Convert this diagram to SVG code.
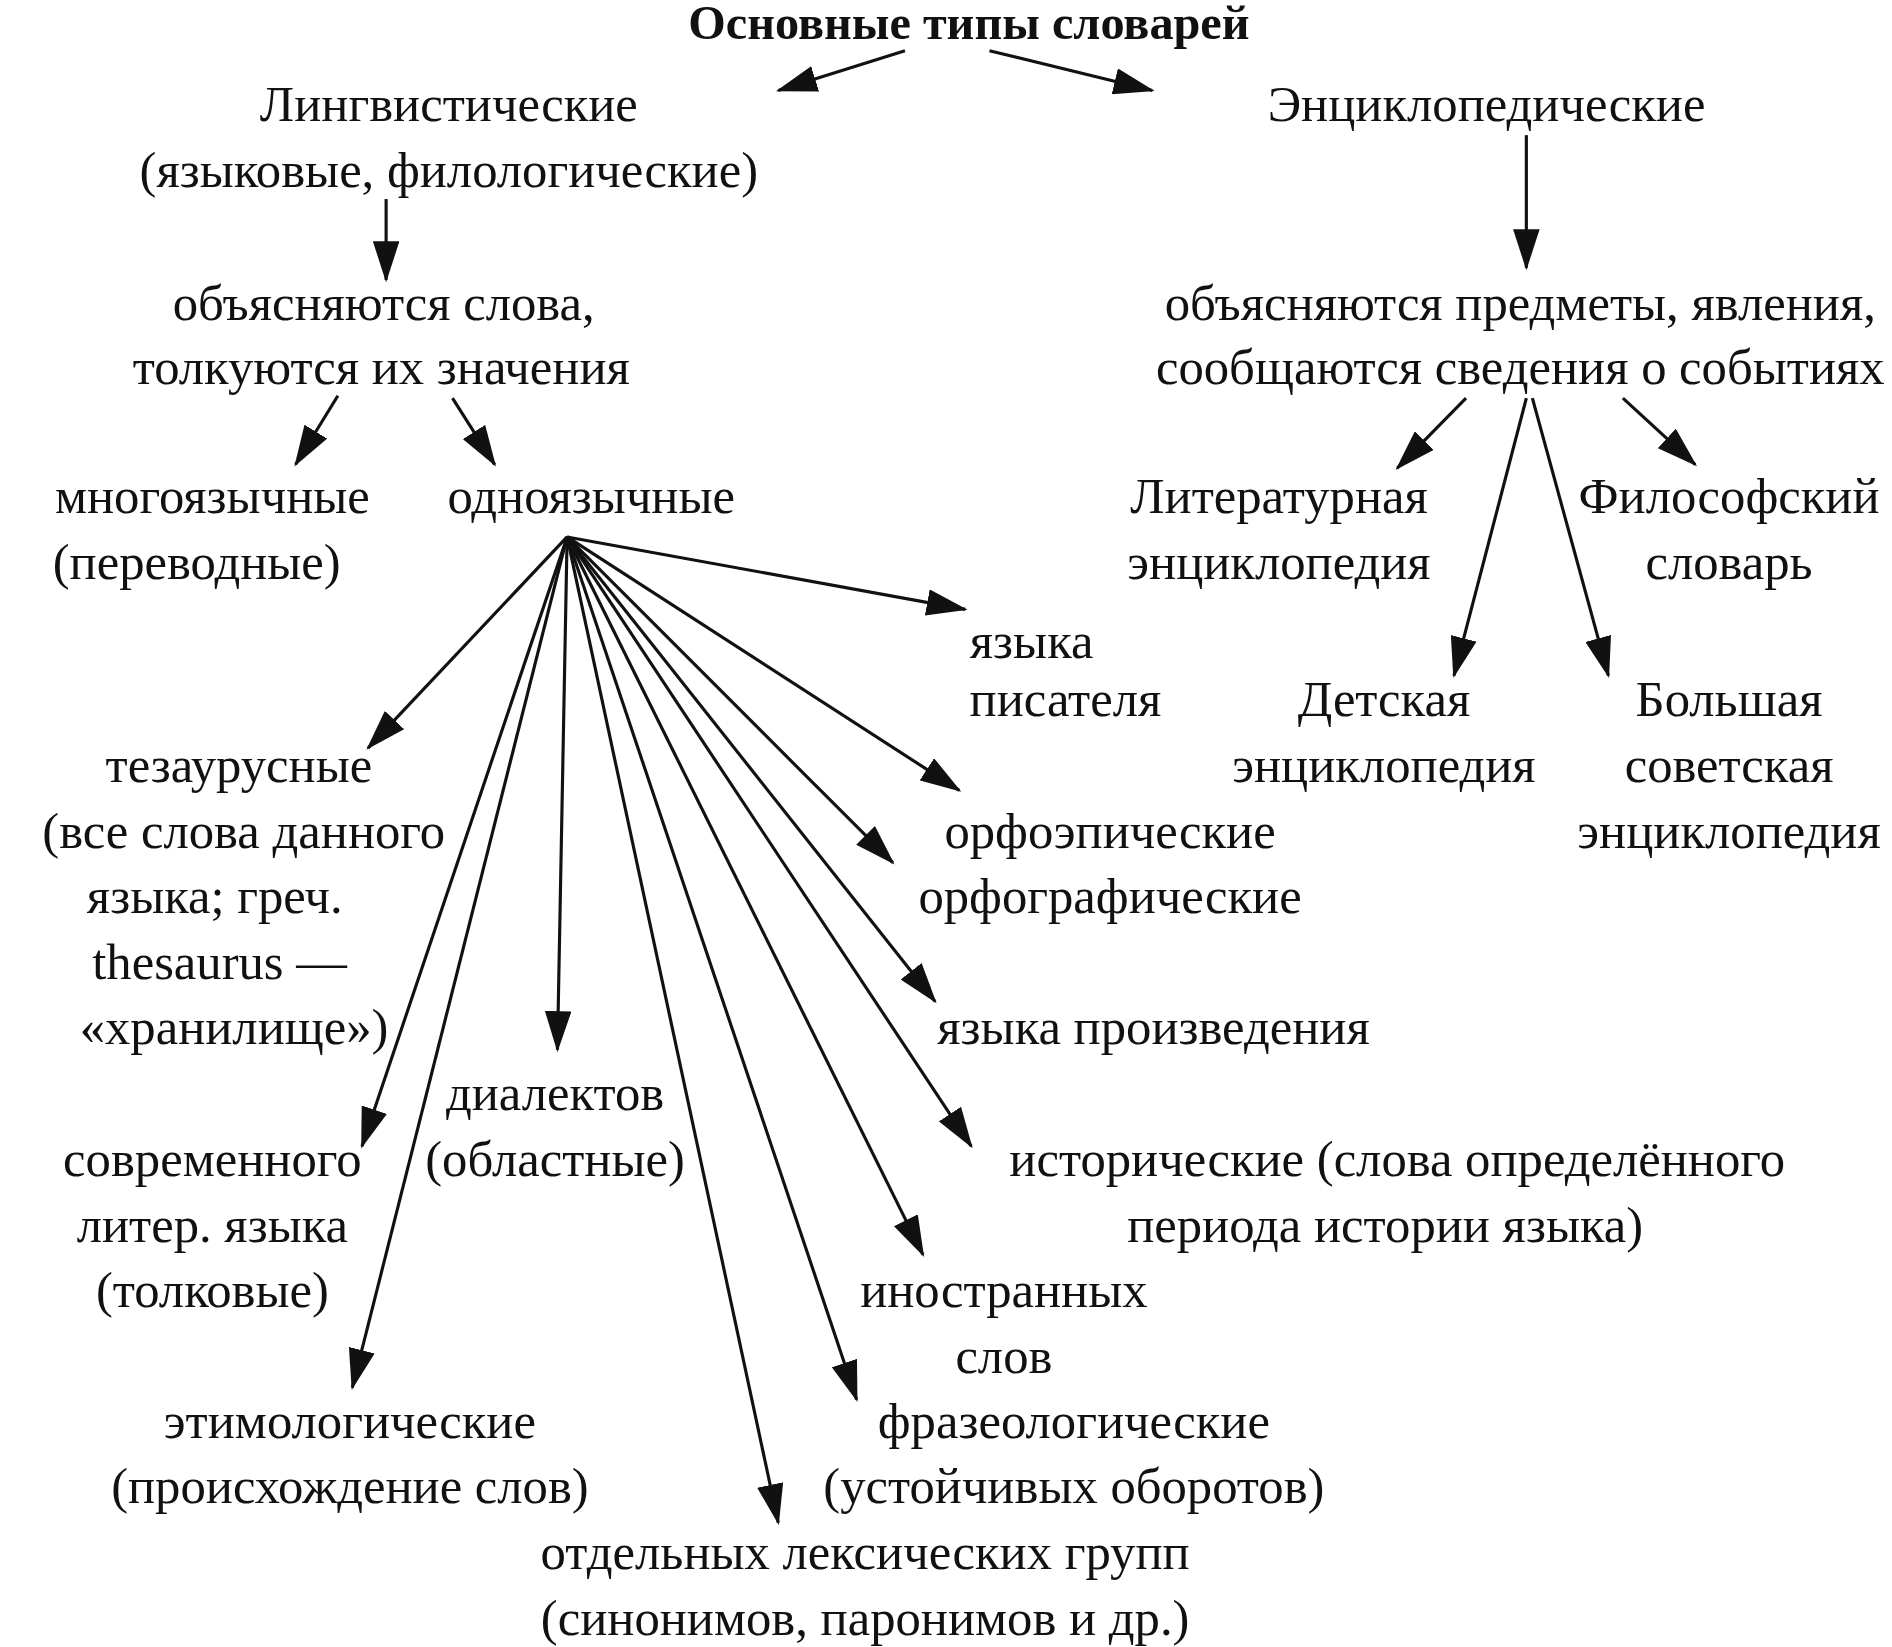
<svg xmlns="http://www.w3.org/2000/svg" width="1892" height="1647" viewBox="0 0 1892 1647">
<style>
text{font-family:"Liberation Serif","DejaVu Serif",serif;font-size:42px;fill:#111;text-anchor:middle}
.t{font-weight:bold;font-size:40px}
line{stroke:#111;stroke-width:2.6}
</style>
<defs><marker id="b" markerWidth="34" markerHeight="22" refX="32" refY="11" orient="auto" markerUnits="userSpaceOnUse" viewBox="0 0 34 22"><path d="M0,0L34,11L0,22Z" fill="#111"/></marker></defs>
<rect width="1892" height="1647" fill="#fff"/>
<g transform="scale(1.2066)">
<g id="connectors">
<line x1="750" y1="42" x2="645" y2="75" marker-end="url(#b)"/>
<line x1="820" y1="42" x2="955" y2="75" marker-end="url(#b)"/>
<line x1="320" y1="165" x2="320" y2="232" marker-end="url(#b)"/>
<line x1="1265" y1="112" x2="1265" y2="222" marker-end="url(#b)"/>
<line x1="280" y1="328" x2="245" y2="385" marker-end="url(#b)"/>
<line x1="375" y1="330" x2="410" y2="385" marker-end="url(#b)"/>
<line x1="1215" y1="330" x2="1158" y2="388" marker-end="url(#b)"/>
<line x1="1345" y1="330" x2="1405" y2="385" marker-end="url(#b)"/>
<line x1="1265" y1="330" x2="1205" y2="560" marker-end="url(#b)"/>
<line x1="1270" y1="330" x2="1333" y2="560" marker-end="url(#b)"/>
<line x1="470" y1="445" x2="800" y2="505" marker-end="url(#b)"/>
<line x1="470" y1="445" x2="305" y2="620" marker-end="url(#b)"/>
<line x1="470" y1="445" x2="795" y2="655" marker-end="url(#b)"/>
<line x1="470" y1="445" x2="740" y2="715" marker-end="url(#b)"/>
<line x1="470" y1="445" x2="775" y2="830" marker-end="url(#b)"/>
<line x1="470" y1="445" x2="805" y2="950" marker-end="url(#b)"/>
<line x1="470" y1="445" x2="765" y2="1040" marker-end="url(#b)"/>
<line x1="470" y1="445" x2="710" y2="1160" marker-end="url(#b)"/>
<line x1="470" y1="445" x2="645" y2="1262" marker-end="url(#b)"/>
<line x1="470" y1="445" x2="462" y2="870" marker-end="url(#b)"/>
<line x1="470" y1="445" x2="300" y2="950" marker-end="url(#b)"/>
<line x1="470" y1="445" x2="292" y2="1150" marker-end="url(#b)"/>
</g>
<g id="title"><text class="t" x="803" y="32">Основные типы словарей</text></g>
<g id="ling"><text x="372" y="100">Лингвистические</text><text x="372" y="155">(языковые, филологические)</text></g>
<g id="enc"><text x="1232" y="100">Энциклопедические</text></g>
<g id="ling2"><text x="318" y="265">объясняются слова,</text><text x="316" y="318">толкуются их значения</text></g>
<g id="enc2"><text x="1260" y="265">объясняются предметы, явления,</text><text x="1260" y="318">сообщаются сведения о событиях</text></g>
<g id="mnogo"><text x="176" y="425">многоязычные</text><text x="163" y="480">(переводные)</text></g>
<g id="odno"><text x="490" y="425">одноязычные</text></g>
<g id="lit"><text x="1060" y="425">Литературная</text><text x="1060" y="480">энциклопедия</text></g>
<g id="fil"><text x="1433" y="425">Философский</text><text x="1433" y="480">словарь</text></g>
<g id="pis"><text x="855" y="545">языка</text><text x="883" y="593">писателя</text></g>
<g id="det"><text x="1147" y="593">Детская</text><text x="1147" y="648">энциклопедия</text></g>
<g id="bse"><text x="1433" y="593">Большая</text><text x="1433" y="648">советская</text><text x="1433" y="703">энциклопедия</text></g>
<g id="tez"><text x="198" y="648">тезаурусные</text><text x="202" y="703">(все слова данного</text><text x="178" y="757">языка; греч.</text><text x="182" y="811">thesaurus —</text><text x="194" y="865">«хранилище»)</text></g>
<g id="orf"><text x="920" y="703">орфоэпические</text><text x="920" y="757">орфографические</text></g>
<g id="proizv"><text x="956" y="865">языка произведения</text></g>
<g id="dial"><text x="460" y="920">диалектов</text><text x="460" y="975">(областные)</text></g>
<g id="sovr"><text x="176" y="975">современного</text><text x="176" y="1029">литер. языка</text><text x="176" y="1083">(толковые)</text></g>
<g id="ist"><text x="1158" y="975">исторические (слова определённого</text><text x="1148" y="1029">периода истории языка)</text></g>
<g id="inostr"><text x="832" y="1083">иностранных</text><text x="832" y="1138">слов</text></g>
<g id="etim"><text x="290" y="1192">этимологические</text><text x="290" y="1246">(происхождение слов)</text></g>
<g id="fraz"><text x="890" y="1192">фразеологические</text><text x="890" y="1246">(устойчивых оборотов)</text></g>
<g id="otd"><text x="717" y="1300">отдельных лексических групп</text><text x="717" y="1355">(синонимов, паронимов и др.)</text></g>
</g>
</svg>
